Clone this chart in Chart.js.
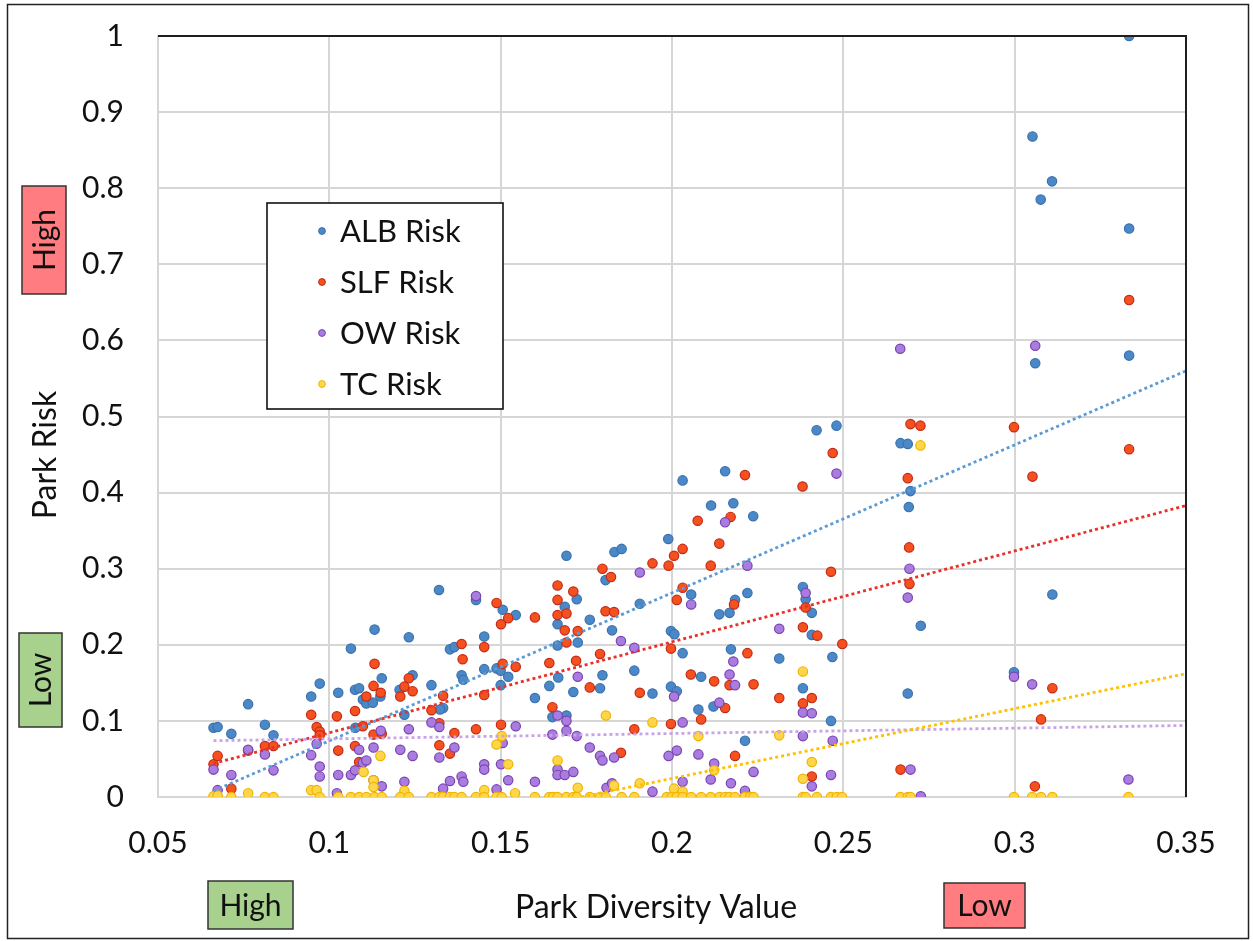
<!DOCTYPE html>
<html lang="en">
<head>
<meta charset="UTF-8">
<title>Park Risk vs Park Diversity Value</title>
<script src="https://cdn.jsdelivr.net/npm/chart.js"></script>
<style>
  body { margin: 0; background: #fff; }
  canvas { display: block; }
</style>
</head>
<body>
<canvas id="riskChart" width="1253" height="941"></canvas>
<script>
const seriesNames = ['ALB Risk', 'SLF Risk', 'OW Risk', 'TC Risk'];
const xTicks = [0.05, 0.1, 0.15, 0.2, 0.25, 0.3, 0.35];
const yTicks = [0, 0.1, 0.2, 0.3, 0.4, 0.5, 0.6, 0.7, 0.8, 0.9, 1];

// [park diversity value, park risk]
const albPoints = [
  [0.0662,0.091],[0.0674,0.092],[0.0714,0.083],[0.0763,0.122],[0.0812,0.095],[0.0837,0.081],
  [0.0947,0.132],[0.0972,0.149],[0.1026,0.137],[0.1063,0.195],[0.1075,0.141],[0.1087,0.143],
  [0.1098,0.128],[0.1108,0.123],[0.1127,0.124],[0.1149,0.132],[0.1132,0.220],[0.1153,0.156],
  [0.1076,0.091],[0.1205,0.141],[0.1232,0.210],[0.1219,0.108],[0.1243,0.160],[0.1320,0.272],
  [0.1298,0.147],[0.1332,0.117],[0.1323,0.115],[0.1352,0.194],[0.1365,0.197],[0.1386,0.160],
  [0.1391,0.154],[0.1428,0.259],[0.1452,0.211],[0.1452,0.168],[0.1488,0.169],[0.1500,0.166],
  [0.1522,0.158],[0.1500,0.147],[0.1506,0.246],[0.1544,0.239],[0.1600,0.130],[0.1642,0.146],
  [0.1668,0.157],[0.1666,0.227],[0.1666,0.199],[0.1687,0.250],[0.1692,0.317],[0.1722,0.260],
  [0.1725,0.203],[0.1712,0.138],[0.1651,0.105],[0.1692,0.107],[0.1760,0.233],[0.1797,0.160],
  [0.1790,0.143],[0.1806,0.285],[0.1832,0.322],[0.1853,0.326],[0.1825,0.219],[0.1890,0.166],
  [0.1906,0.254],[0.1943,0.136],[0.1989,0.339],[0.2031,0.416],[0.2056,0.266],[0.2138,0.240],
  [0.2168,0.242],[0.2184,0.259],[0.2220,0.268],[0.1997,0.218],[0.2007,0.214],[0.2031,0.189],
  [0.2172,0.194],[0.2313,0.182],[0.2468,0.184],[0.2085,0.158],[0.1997,0.145],[0.2014,0.139],
  [0.2077,0.115],[0.2121,0.119],[0.2213,0.074],[0.2382,0.276],[0.2390,0.260],[0.2408,0.242],
  [0.2408,0.213],[0.2382,0.143],[0.2464,0.100],[0.2114,0.383],[0.2155,0.428],[0.2179,0.386],
  [0.2237,0.369],[0.2422,0.482],[0.2480,0.488],[0.2667,0.465],[0.2688,0.464],[0.2696,0.402],
  [0.2691,0.381],[0.2726,0.225],[0.2688,0.136],[0.3110,0.266],[0.2998,0.164],[0.3334,1.000],
  [0.3052,0.868],[0.3109,0.809],[0.3076,0.785],[0.3334,0.747],[0.3060,0.570],[0.3334,0.580]
];
const slfPoints = [
  [0.0662,0.043],[0.0674,0.054],[0.0714,0.011],[0.0763,0.061],[0.0812,0.067],[0.0837,0.067],
  [0.0947,0.108],[0.0963,0.092],[0.0972,0.086],[0.0972,0.081],[0.1022,0.106],[0.1026,0.061],
  [0.1075,0.113],[0.1075,0.067],[0.1098,0.093],[0.1087,0.046],[0.1108,0.132],[0.1129,0.146],
  [0.1132,0.175],[0.1150,0.137],[0.1129,0.082],[0.1153,0.083],[0.1207,0.132],[0.1219,0.145],
  [0.1232,0.156],[0.1243,0.139],[0.1298,0.114],[0.1321,0.097],[0.1332,0.133],[0.1321,0.068],
  [0.1352,0.057],[0.1365,0.084],[0.1386,0.201],[0.1389,0.181],[0.1428,0.089],[0.1452,0.197],
  [0.1452,0.134],[0.1488,0.255],[0.1501,0.227],[0.1522,0.235],[0.1506,0.175],[0.1544,0.171],
  [0.1501,0.095],[0.1600,0.236],[0.1642,0.176],[0.1651,0.118],[0.1666,0.278],[0.1666,0.259],
  [0.1666,0.239],[0.1692,0.241],[0.1687,0.219],[0.1692,0.203],[0.1712,0.270],[0.1725,0.218],
  [0.1720,0.179],[0.1760,0.144],[0.1790,0.188],[0.1797,0.300],[0.1822,0.289],[0.1806,0.244],
  [0.1831,0.243],[0.1851,0.058],[0.1890,0.089],[0.1906,0.137],[0.1943,0.307],[0.1990,0.304],
  [0.2006,0.317],[0.2031,0.326],[0.2113,0.304],[0.2031,0.275],[0.2014,0.259],[0.2181,0.253],
  [0.2464,0.296],[0.2390,0.249],[0.2382,0.223],[0.2424,0.212],[0.2497,0.201],[0.1997,0.195],
  [0.2220,0.189],[0.2055,0.161],[0.2123,0.152],[0.2168,0.147],[0.2238,0.148],[0.2313,0.130],
  [0.2155,0.117],[0.2382,0.123],[0.2408,0.130],[0.1997,0.096],[0.2085,0.102],[0.2184,0.054],
  [0.2408,0.027],[0.2075,0.363],[0.2171,0.368],[0.2138,0.333],[0.2213,0.423],[0.2469,0.452],
  [0.2381,0.408],[0.2696,0.490],[0.2725,0.488],[0.2688,0.419],[0.2692,0.328],[0.2998,0.486],
  [0.2693,0.280],[0.3110,0.143],[0.3077,0.102],[0.2667,0.036],[0.3059,0.014],[0.3334,0.653],
  [0.3052,0.421],[0.3334,0.457]
];
const owPoints = [
  [0.0662,0.036],[0.0674,0.009],[0.0714,0.029],[0.0763,0.062],[0.0812,0.056],[0.0837,0.035],
  [0.0947,0.055],[0.0963,0.070],[0.0972,0.040],[0.0972,0.027],[0.1026,0.029],[0.1063,0.029],
  [0.1075,0.035],[0.1087,0.062],[0.1098,0.045],[0.1108,0.048],[0.1129,0.065],[0.1129,0.022],
  [0.1153,0.014],[0.1150,0.087],[0.1207,0.062],[0.1232,0.089],[0.1219,0.020],[0.1243,0.054],
  [0.1022,0.005],[0.1298,0.098],[0.1321,0.092],[0.1332,0.011],[0.1321,0.052],[0.1365,0.065],
  [0.1352,0.021],[0.1386,0.027],[0.1391,0.020],[0.1428,0.264],[0.1452,0.043],[0.1452,0.036],
  [0.1488,0.010],[0.1506,0.071],[0.1501,0.043],[0.1522,0.022],[0.1544,0.093],[0.1600,0.020],
  [0.1651,0.082],[0.1666,0.107],[0.1692,0.100],[0.1692,0.087],[0.1722,0.080],[0.1725,0.158],
  [0.1666,0.036],[0.1666,0.029],[0.1687,0.029],[0.1712,0.033],[0.1760,0.065],[0.1790,0.054],
  [0.1797,0.048],[0.1831,0.052],[0.1809,0.012],[0.1825,0.018],[0.1851,0.205],[0.1890,0.196],
  [0.1906,0.295],[0.1943,0.007],[0.2220,0.304],[0.2056,0.253],[0.2390,0.268],[0.2313,0.221],
  [0.2179,0.178],[0.2168,0.161],[0.2184,0.147],[0.2006,0.132],[0.2138,0.124],[0.2031,0.098],
  [0.2382,0.111],[0.2408,0.110],[0.2382,0.080],[0.2469,0.074],[0.1990,0.054],[0.2014,0.061],
  [0.2077,0.056],[0.2123,0.044],[0.2238,0.033],[0.2031,0.020],[0.2113,0.023],[0.2172,0.018],
  [0.2213,0.008],[0.2408,0.014],[0.2464,0.029],[0.2666,0.589],[0.2480,0.425],[0.2155,0.361],
  [0.2693,0.300],[0.2688,0.262],[0.2998,0.158],[0.3051,0.148],[0.2696,0.036],[0.2726,0.001],
  [0.3332,0.023],[0.3060,0.593]
];
const tcPoints = [
  [0.0662,0.001],[0.0674,0.002],[0.0763,0.005],[0.0947,0.009],[0.0963,0.009],[0.1129,0.022],
  [0.1129,0.013],[0.1149,0.054],[0.1100,0.033],[0.1219,0.008],[0.1488,0.069],[0.1503,0.080],
  [0.1522,0.043],[0.1452,0.009],[0.1542,0.005],[0.1666,0.048],[0.1725,0.012],[0.1807,0.107],
  [0.1831,0.015],[0.1906,0.018],[0.1943,0.098],[0.2077,0.080],[0.2313,0.081],[0.2382,0.165],
  [0.2408,0.046],[0.2123,0.035],[0.2382,0.024],[0.2006,0.011],[0.2031,0.007],[0.2725,0.462],
  [0.0714,0],[0.0812,0],[0.0837,0],[0.0972,0],[0.1026,0],[0.1063,0],[0.1087,0],[0.1108,0],
  [0.1132,0],[0.1153,0],[0.1207,0],[0.1232,0],[0.1298,0],[0.1321,0],[0.1332,0],[0.1352,0],
  [0.1365,0],[0.1386,0],[0.1428,0],[0.1452,0],[0.1488,0],[0.1503,0],[0.1600,0],[0.1642,0],
  [0.1653,0],[0.1666,0],[0.1692,0],[0.1712,0],[0.1722,0],[0.1760,0],[0.1790,0],[0.1807,0],
  [0.1853,0],[0.1890,0],[0.1985,0],[0.1999,0],[0.2014,0],[0.2031,0],[0.2056,0],[0.2085,0],
  [0.2113,0],[0.2139,0],[0.2155,0],[0.2168,0],[0.2184,0],[0.2213,0],[0.2228,0],[0.2238,0],
  [0.2382,0],[0.2390,0],[0.2423,0],[0.2464,0],[0.2481,0],[0.2496,0],[0.2667,0],[0.2688,0],
  [0.2696,0],[0.2998,0],[0.3051,0],[0.3077,0],[0.3110,0],[0.3332,0]
];

// linear trendline end points
const albTrend = [[0.0662, 0.008], [0.35, 0.560]];
const slfTrend = [[0.0662, 0.044], [0.35, 0.383]];
const owTrend = [[0.0662, 0.074], [0.35, 0.094]];
const tcTrend = [[0.1735, 0.0], [0.35, 0.162]];

const fills = ['#4a88c8', '#f4511e', '#a97ddf', '#ffd54a'];
const edges = ['#3b72ad', '#c42a18', '#7b42b2', '#f0b400'];
const trendColors = ['#5b9bd5', '#e8312a', '#c9a3e8', '#ffc000'];

const FONT = 'Lato, "Open Sans", sans-serif';
const toXY = pts => pts.map(p => ({ x: p[0], y: p[1] }));

const pointSets = [albPoints, slfPoints, owPoints, tcPoints];
const trendSets = [albTrend, slfTrend, owTrend, tcTrend];

const datasets = [];
pointSets.forEach((pts, i) => {
  datasets.push({
    type: 'scatter',
    label: seriesNames[i],
    data: toXY(pts),
    backgroundColor: fills[i],
    borderColor: edges[i],
    borderWidth: 1.2,
    pointRadius: 4.7,
    order: 7 - i
  });
});
trendSets.forEach((pts, i) => {
  datasets.push({
    type: 'line',
    label: seriesNames[i] + ' trend',
    data: toXY(pts),
    borderColor: trendColors[i],
    borderWidth: 2.8,
    borderDash: [3, 3],
    pointRadius: 0,
    fill: false,
    order: 3 - i
  });
});

function box(ctx, x, y, w, h, fill, text, rotate) {
  ctx.fillStyle = fill;
  ctx.fillRect(x, y, w, h);
  ctx.strokeStyle = '#333';
  ctx.lineWidth = 1.5;
  ctx.strokeRect(x, y, w, h);
  ctx.save();
  ctx.translate(x + w / 2, y + h / 2);
  if (rotate) ctx.rotate(-Math.PI / 2);
  ctx.fillStyle = '#111';
  ctx.font = '30px ' + FONT;
  ctx.textAlign = 'center';
  ctx.textBaseline = 'middle';
  ctx.fillText(text, 0, 1);
  ctx.restore();
}

const decorations = {
  id: 'decorations',
  afterDatasetsDraw(chart) {
    const { ctx, chartArea: a } = chart;
    ctx.save();
    // dark frame on top and right of the plot area
    ctx.strokeStyle = '#1f1f1f';
    ctx.lineWidth = 2;
    ctx.beginPath();
    ctx.moveTo(a.left, a.top);
    ctx.lineTo(a.right, a.top);
    ctx.lineTo(a.right, a.bottom);
    ctx.stroke();

    // legend box inside the plot
    const lx = 267, ly = 203, lw = 236, lh = 206;
    ctx.fillStyle = '#fff';
    ctx.fillRect(lx, ly, lw, lh);
    ctx.strokeStyle = '#111';
    ctx.lineWidth = 1.6;
    ctx.strokeRect(lx, ly, lw, lh);
    ctx.font = '31px ' + FONT;
    ctx.textBaseline = 'middle';
    ctx.textAlign = 'left';
    seriesNames.forEach((name, i) => {
      const cy = 231 + i * 51;
      ctx.beginPath();
      ctx.arc(322, cy, 3.4, 0, Math.PI * 2);
      ctx.fillStyle = fills[i];
      ctx.fill();
      ctx.lineWidth = 1;
      ctx.strokeStyle = edges[i];
      ctx.stroke();
      ctx.fillStyle = '#111';
      ctx.fillText(name, 340, cy + 1);
    });
    ctx.restore();
  },
  afterDraw(chart) {
    const { ctx } = chart;
    ctx.save();
    // axis titles
    ctx.fillStyle = '#111';
    ctx.font = '32px ' + FONT;
    ctx.textAlign = 'center';
    ctx.textBaseline = 'middle';
    ctx.fillText('Park Diversity Value', 656, 908);
    ctx.save();
    ctx.translate(46, 455);
    ctx.rotate(-Math.PI / 2);
    ctx.fillText('Park Risk', 0, 0);
    ctx.restore();

    // High / Low markers
    box(ctx, 22, 186, 44, 108, '#ff7c80', 'High', true);
    box(ctx, 19, 633, 43, 94, '#a9d18e', 'Low', true);
    box(ctx, 208, 881, 85, 48, '#a9d18e', 'High', false);
    box(ctx, 944, 883, 81, 45, '#ff7c80', 'Low', false);

    // outer frame
    ctx.strokeStyle = '#222';
    ctx.lineWidth = 1.5;
    ctx.strokeRect(7.5, 4.5, 1241, 934);
    ctx.restore();
  }
};

new Chart(document.getElementById('riskChart'), {
  type: 'scatter',
  data: { datasets: datasets },
  options: {
    responsive: false,
    animation: false,
    devicePixelRatio: 1,
    layout: { padding: { top: 36, right: 67, left: 0, bottom: 0 } },
    plugins: {
      legend: { display: false },
      tooltip: { enabled: false }
    },
    scales: {
      x: {
        type: 'linear',
        min: 0.05,
        max: 0.35,
        afterFit: s => { s.height = 144; s.paddingLeft = 0; s.paddingRight = 0; },
        afterBuildTicks: s => { s.ticks = xTicks.map(v => ({ value: v })); },
        ticks: {
          padding: 28,
          color: '#111',
          font: { family: FONT, size: 30 },
          callback: v => String(+v.toFixed(2))
        },
        grid: { color: '#d6d6d6', lineWidth: 2, drawTicks: false },
        border: { color: '#d6d6d6', width: 2 }
      },
      y: {
        min: 0,
        max: 1,
        afterFit: s => { s.width = 158; s.paddingTop = 0; s.paddingBottom = 0; },
        afterBuildTicks: s => { s.ticks = yTicks.map(v => ({ value: v })); },
        ticks: {
          padding: 34,
          color: '#111',
          font: { family: FONT, size: 30 },
          callback: v => String(+v.toFixed(1))
        },
        grid: { color: '#d6d6d6', lineWidth: 2, drawTicks: false },
        border: { color: '#d6d6d6', width: 2 }
      }
    }
  },
  plugins: [decorations]
});
</script>
</body>
</html>
